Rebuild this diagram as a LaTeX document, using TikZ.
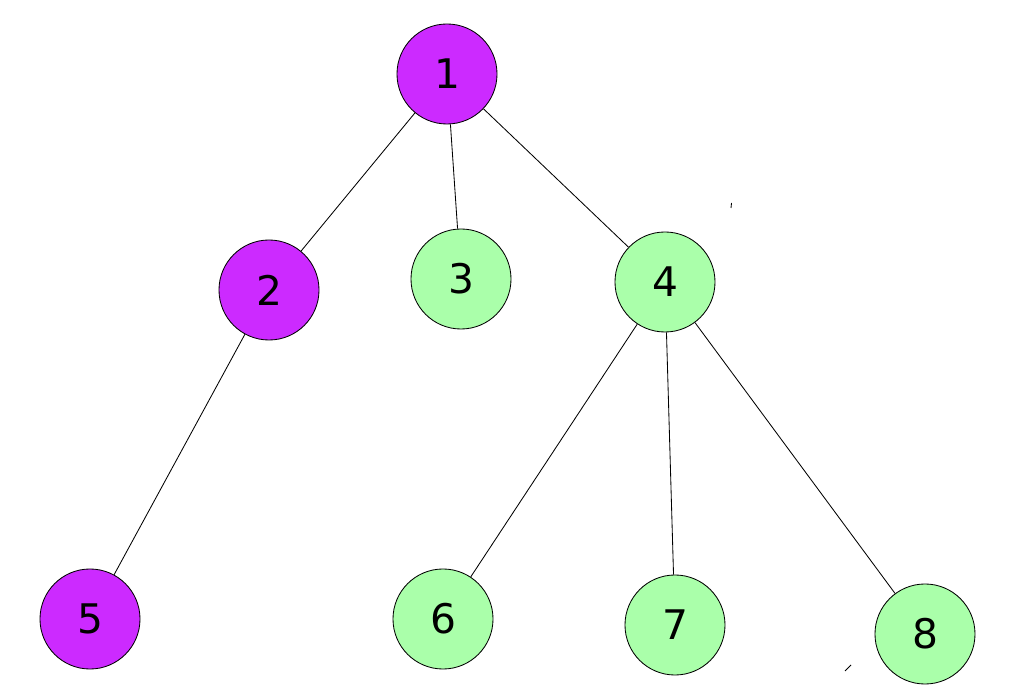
\documentclass[tikz,border=0pt]{standalone}
\usepackage{fontspec}
\setmainfont{DejaVu Sans}
\definecolor{violetnode}{RGB}{204,42,255}
\definecolor{greennode}{RGB}{170,255,170}

\begin{document}
\begin{tikzpicture}[x=0.025cm,y=-0.025cm,
  vert/.style={circle,draw,line width=0.6pt,minimum size=2.5cm,inner sep=0pt,
    font=\fontsize{29}{34}\selectfont},
  edge/.style={line width=0.6pt}]
\useasboundingbox (0,0) rectangle (1021,694);
\node[vert,fill=violetnode] (n1) at (447,74) {1};
\node[vert,fill=violetnode] (n2) at (269,290) {2};
\node[vert,fill=greennode] (n3) at (461,279) {3};
\node[vert,fill=greennode] (n4) at (665,282) {4};
\node[vert,fill=violetnode] (n5) at (90,619) {5};
\node[vert,fill=greennode] (n6) at (443,619) {6};
\node[vert,fill=greennode] (n7) at (675,625) {7};
\node[vert,fill=greennode] (n8) at (925,634) {8};
\draw[edge] (n1)--(n2); \draw[edge] (n1)--(n3); \draw[edge] (n1)--(n4);
\draw[edge] (n2)--(n5);
\draw[edge] (n4)--(n6); \draw[edge] (n4)--(n7); \draw[edge] (n4)--(n8);
% stray strokes
\draw[edge] (731.5,203)--(731,208);
\draw[edge] (845,671)--(851,665);
\end{tikzpicture}
\end{document}
